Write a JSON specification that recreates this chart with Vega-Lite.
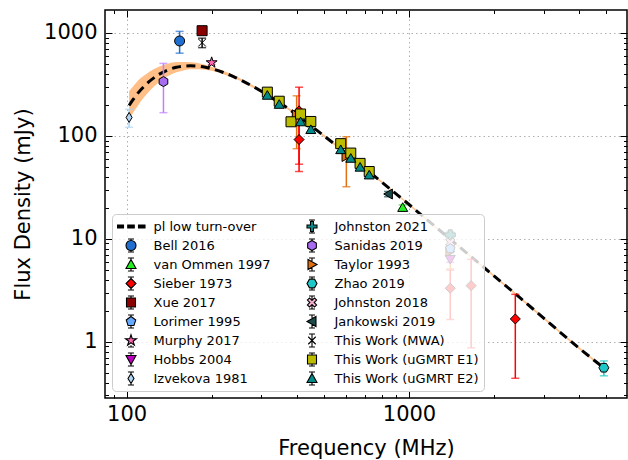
{
  "$schema": "https://vega.github.io/schema/vega-lite/v6.json",
  "width": 522,
  "height": 388,
  "autosize": {"type": "none"},
  "padding": {"left": 105, "top": 10, "right": 1, "bottom": 62},
  "background": "white",
  "config": {
    "font": "DejaVu Sans",
    "view": {"stroke": "black", "strokeWidth": 1.5},
    "axis": {
      "labelFont": "DejaVu Sans", "titleFont": "DejaVu Sans",
      "labelColor": "black", "titleColor": "black", "titleFontWeight": "normal",
      "labelFontSize": 21, "titleFontSize": 21,
      "tickColor": "black", "tickWidth": 1, "domain": false,
      "labelOverlap": false, "labelFlush": false,
      "gridColor": "#b0b0b0", "gridDash": [1.5, 3], "gridWidth": 1
    },
    "legend": {"labelFont": "DejaVu Sans", "labelFontSize": 13, "labelColor": "black", "labelLimit": 300, "symbolLimit": 50}
  },
  "datasets": {
    "fit": [
      {"freq": 102, "s": 197, "lo": 143, "hi": 272},
      {"freq": 105, "s": 222, "lo": 165, "hi": 299},
      {"freq": 110, "s": 263, "lo": 200, "hi": 347},
      {"freq": 115, "s": 301, "lo": 236, "hi": 383},
      {"freq": 120, "s": 336, "lo": 270, "hi": 418},
      {"freq": 130, "s": 395, "lo": 332, "hi": 470},
      {"freq": 140, "s": 437, "lo": 381, "hi": 502},
      {"freq": 150, "s": 464, "lo": 414, "hi": 521},
      {"freq": 160, "s": 477, "lo": 435, "hi": 523},
      {"freq": 168, "s": 480, "lo": 443, "hi": 520},
      {"freq": 180, "s": 475, "lo": 443, "hi": 509},
      {"freq": 190, "s": 464, "lo": 438, "hi": 491},
      {"freq": 200, "s": 449, "lo": 429, "hi": 470},
      {"freq": 220, "s": 413, "lo": 397, "hi": 430},
      {"freq": 240, "s": 375, "lo": 362, "hi": 388},
      {"freq": 260, "s": 337, "lo": 328, "hi": 346},
      {"freq": 280, "s": 302, "lo": 294, "hi": 310},
      {"freq": 300, "s": 271, "lo": 264, "hi": 279},
      {"freq": 330, "s": 230, "lo": 224, "hi": 236},
      {"freq": 360, "s": 197, "lo": 192, "hi": 202},
      {"freq": 400, "s": 161, "lo": 157, "hi": 165},
      {"freq": 450, "s": 125, "lo": 122, "hi": 128},
      {"freq": 500, "s": 100, "lo": 97.7, "hi": 102.3},
      {"freq": 600, "s": 67.5, "lo": 66, "hi": 69},
      {"freq": 700, "s": 48, "lo": 46.9, "hi": 49.1},
      {"freq": 800, "s": 35.6, "lo": 34.8, "hi": 36.4},
      {"freq": 900, "s": 27.3, "lo": 26.7, "hi": 27.9},
      {"freq": 1000, "s": 21.5, "lo": 21, "hi": 22},
      {"freq": 1200, "s": 14.1, "lo": 13.8, "hi": 14.4},
      {"freq": 1500, "s": 8.45, "lo": 8.26, "hi": 8.64},
      {"freq": 2000, "s": 4.35, "lo": 4.25, "hi": 4.45},
      {"freq": 2500, "s": 2.6, "lo": 2.54, "hi": 2.66},
      {"freq": 3000, "s": 1.69, "lo": 1.65, "hi": 1.73},
      {"freq": 4000, "s": 0.865, "lo": 0.845, "hi": 0.885},
      {"freq": 4900, "s": 0.555, "lo": 0.542, "hi": 0.568}
    ],
    "obs": [
      {"series": "Izvekova 1981", "freq": 102, "s": 151, "lo": 121, "hi": 181},
      {"series": "Sanidas 2019", "freq": 135, "s": 337, "lo": 168, "hi": 506},
      {"series": "Bell 2016", "freq": 154, "s": 836, "lo": 636, "hi": 1036},
      {"series": "This Work (MWA)", "freq": 185, "s": 805, "lo": 720, "hi": 890},
      {"series": "Xue 2017", "freq": 185, "s": 1052, "lo": 1002, "hi": 1102},
      {"series": "Murphy 2017", "freq": 200, "s": 515, "lo": 495, "hi": 535},
      {"series": "Taylor 1993", "freq": 400, "s": 160, "lo": 75, "hi": 245},
      {"series": "Taylor 1993", "freq": 600, "s": 63, "lo": 32, "hi": 98},
      {"series": "Taylor 1993", "freq": 1400, "s": 7.5, "lo": 5.1, "hi": 9.9},
      {"series": "Sieber 1973", "freq": 408, "s": 175, "lo": 53, "hi": 297},
      {"series": "Sieber 1973", "freq": 408, "s": 92, "lo": 45, "hi": 139},
      {"series": "Sieber 1973", "freq": 1400, "s": 3.3, "lo": 1.64, "hi": 4.96},
      {"series": "Sieber 1973", "freq": 1660, "s": 3.5, "lo": 0.87, "hi": 6.3},
      {"series": "Sieber 1973", "freq": 2380, "s": 1.66, "lo": 0.44, "hi": 2.88},
      {"series": "Johnston 2021", "freq": 1400, "s": 10.9, "lo": 10.1, "hi": 11.7},
      {"series": "Johnston 2018", "freq": 1400, "s": 9.2, "lo": 8.4, "hi": 10.0},
      {"series": "Lorimer 1995", "freq": 1400, "s": 8.0, "lo": 7.3, "hi": 8.7},
      {"series": "Hobbs 2004", "freq": 1400, "s": 6.25, "lo": 5.9, "hi": 6.6},
      {"series": "Jankowski 2019", "freq": 843, "s": 27.2, "lo": 25.6, "hi": 28.8},
      {"series": "van Ommen 1997", "freq": 950, "s": 20.3, "lo": 19.3, "hi": 21.3},
      {"series": "Zhao 2019", "freq": 4900, "s": 0.557, "lo": 0.465, "hi": 0.649},
      {"series": "This Work (uGMRT E1)", "freq": 315, "s": 266, "lo": 253, "hi": 279},
      {"series": "This Work (uGMRT E1)", "freq": 347, "s": 217, "lo": 206, "hi": 228},
      {"series": "This Work (uGMRT E1)", "freq": 382, "s": 137, "lo": 130, "hi": 144},
      {"series": "This Work (uGMRT E1)", "freq": 413, "s": 163, "lo": 155, "hi": 171},
      {"series": "This Work (uGMRT E1)", "freq": 449, "s": 138, "lo": 131, "hi": 145},
      {"series": "This Work (uGMRT E1)", "freq": 573, "s": 84, "lo": 80, "hi": 88},
      {"series": "This Work (uGMRT E1)", "freq": 622, "s": 68, "lo": 64.6, "hi": 71.4},
      {"series": "This Work (uGMRT E1)", "freq": 671, "s": 54, "lo": 51.3, "hi": 56.7},
      {"series": "This Work (uGMRT E1)", "freq": 723, "s": 45, "lo": 42.8, "hi": 47.2},
      {"series": "This Work (uGMRT E2)", "freq": 315, "s": 250, "lo": 238, "hi": 262},
      {"series": "This Work (uGMRT E2)", "freq": 347, "s": 204, "lo": 194, "hi": 214},
      {"series": "This Work (uGMRT E2)", "freq": 413, "s": 138, "lo": 131, "hi": 145},
      {"series": "This Work (uGMRT E2)", "freq": 449, "s": 116, "lo": 110, "hi": 122},
      {"series": "This Work (uGMRT E2)", "freq": 573, "s": 74, "lo": 70.3, "hi": 77.7},
      {"series": "This Work (uGMRT E2)", "freq": 622, "s": 61, "lo": 58, "hi": 64},
      {"series": "This Work (uGMRT E2)", "freq": 671, "s": 50, "lo": 47.5, "hi": 52.5},
      {"series": "This Work (uGMRT E2)", "freq": 723, "s": 42, "lo": 40, "hi": 44}
    ]
  },
  "resolve": {
    "axis": {"x": "independent", "y": "independent"},
    "scale": {"fill": "independent", "shape": "independent"}
  },
  "layer": [
    {
      "data": {"name": "fit"},
      "mark": {"type": "area", "color": "#ff7f0e", "opacity": 0.5, "interpolate": "monotone"},
      "encoding": {
        "x": {
          "field": "freq", "type": "quantitative",
          "scale": {"type": "log", "domain": [83.8, 5918], "nice": false},
          "axis": {
            "orient": "bottom",
            "values": [90, 100, 200, 300, 400, 500, 600, 700, 800, 900, 1000, 2000, 3000, 4000, 5000],
            "labelExpr": "datum.value == 100 || datum.value == 1000 ? format(datum.value, 'd') : ''",
            "labelPadding": 12,
            "tickSize": {"condition": {"test": "datum.value == 100 || datum.value == 1000", "value": -7}, "value": -3.5},
            "grid": true,
            "gridOpacity": {"condition": {"test": "datum.value == 100 || datum.value == 1000", "value": 1}, "value": 0},
            "title": "Frequency (MHz)",
            "titlePadding": 10
          }
        },
        "y": {
          "field": "lo", "type": "quantitative",
          "scale": {"type": "log", "domain": [0.283, 1672], "nice": false},
          "axis": {
            "orient": "left",
            "values": [0.3, 0.4, 0.5, 0.6, 0.7, 0.8, 0.9, 1, 2, 3, 4, 5, 6, 7, 8, 9, 10, 20, 30, 40, 50, 60, 70, 80, 90, 100, 200, 300, 400, 500, 600, 700, 800, 900, 1000],
            "labelExpr": "indexof([1, 10, 100, 1000], datum.value) >= 0 ? format(datum.value, 'd') : ''",
            "labelPadding": 15,
            "tickSize": {"condition": {"test": "indexof([1, 10, 100, 1000], datum.value) >= 0", "value": -7}, "value": -3.5},
            "grid": true,
            "gridOpacity": {"condition": {"test": "indexof([1, 10, 100, 1000], datum.value) >= 0", "value": 1}, "value": 0},
            "title": "Flux Density (mJy)",
            "titlePadding": 10
          }
        },
        "y2": {"field": "hi"}
      }
    },
    {
      "data": {"name": "fit"},
      "mark": {"type": "line", "color": "black", "strokeWidth": 3, "strokeDash": [9, 5.5], "interpolate": "monotone"},
      "encoding": {
        "x": {
          "field": "freq", "type": "quantitative",
          "scale": {"type": "log", "domain": [83.8, 5918], "nice": false},
          "axis": {
            "orient": "top",
            "values": [90, 100, 200, 300, 400, 500, 600, 700, 800, 900, 1000, 2000, 3000, 4000, 5000],
            "labels": false, "grid": false, "title": null,
            "tickSize": {"condition": {"test": "datum.value == 100 || datum.value == 1000", "value": -7}, "value": -3.5}
          }
        },
        "y": {
          "field": "s", "type": "quantitative",
          "scale": {"type": "log", "domain": [0.283, 1672], "nice": false},
          "axis": {
            "orient": "right",
            "values": [0.3, 0.4, 0.5, 0.6, 0.7, 0.8, 0.9, 1, 2, 3, 4, 5, 6, 7, 8, 9, 10, 20, 30, 40, 50, 60, 70, 80, 90, 100, 200, 300, 400, 500, 600, 700, 800, 900, 1000],
            "labels": false, "grid": false, "title": null,
            "tickSize": {"condition": {"test": "indexof([1, 10, 100, 1000], datum.value) >= 0", "value": -7}, "value": -3.5}
          }
        }
      }
    },
    {
      "data": {"name": "obs"},
      "mark": {"type": "errorbar", "ticks": {"size": 8}, "thickness": 1.5},
      "encoding": {
        "x": {"field": "freq", "type": "quantitative", "scale": {"type": "log", "domain": [83.8, 5918], "nice": false}, "axis": null},
        "y": {"field": "lo", "type": "quantitative", "scale": {"type": "log", "domain": [0.283, 1672], "nice": false}, "axis": null},
        "y2": {"field": "hi"},
        "color": {
          "field": "series", "type": "nominal",
          "scale": {
            "domain": ["pl low turn-over", "Bell 2016", "van Ommen 1997", "Sieber 1973", "Xue 2017", "Lorimer 1995", "Murphy 2017", "Hobbs 2004", "Izvekova 1981", "Johnston 2021", "Sanidas 2019", "Taylor 1993", "Zhao 2019", "Johnston 2018", "Jankowski 2019", "This Work (MWA)", "This Work (uGMRT E1)", "This Work (uGMRT E2)"],
            "range": ["#000000", "#1f6fd0", "#22dd22", "#ff0000", "#8b0000", "#66aaff", "#ff69b4", "#c000c0", "#a8d4f8", "#0e8a8a", "#c080ff", "#e0700e", "#1fc8c8", "#f4b0d0", "#1a4a4a", "#000000", "#bcbc00", "#008b8b"]
          },
          "legend": null
        }
      }
    },
    {
      "data": {"name": "obs"},
      "mark": {"type": "point", "filled": true, "stroke": "black", "strokeWidth": 1, "size": 100, "opacity": 1},
      "encoding": {
        "x": {"field": "freq", "type": "quantitative", "scale": {"type": "log", "domain": [83.8, 5918], "nice": false}, "axis": null},
        "y": {"field": "s", "type": "quantitative", "scale": {"type": "log", "domain": [0.283, 1672], "nice": false}, "axis": null},
        "fill": {
          "field": "series", "type": "nominal",
          "scale": {
            "domain": ["pl low turn-over", "Bell 2016", "van Ommen 1997", "Sieber 1973", "Xue 2017", "Lorimer 1995", "Murphy 2017", "Hobbs 2004", "Izvekova 1981", "Johnston 2021", "Sanidas 2019", "Taylor 1993", "Zhao 2019", "Johnston 2018", "Jankowski 2019", "This Work (MWA)", "This Work (uGMRT E1)", "This Work (uGMRT E2)"],
            "range": ["#000000", "#1f6fd0", "#22ee22", "#ff0000", "#8b0000", "#66aaff", "#ff69b4", "#c000c0", "#b0d4f4", "#0e8a8a", "#a86cf0", "#e0700e", "#1fc8c8", "#f4b0d0", "#1a4a4a", "#000000", "#bcbc00", "#008b8b"]
          },
          "legend": null
        },
        "shape": {
          "field": "series", "type": "nominal",
          "scale": {
            "domain": ["pl low turn-over", "Bell 2016", "van Ommen 1997", "Sieber 1973", "Xue 2017", "Lorimer 1995", "Murphy 2017", "Hobbs 2004", "Izvekova 1981", "Johnston 2021", "Sanidas 2019", "Taylor 1993", "Zhao 2019", "Johnston 2018", "Jankowski 2019", "This Work (MWA)", "This Work (uGMRT E1)", "This Work (uGMRT E2)"],
            "range": [
              "M-2.8,-0.3H-1.5V0.3H-2.8ZM-0.65,-0.3H0.65V0.3H-0.65ZM1.5,-0.3H2.8V0.3H1.5Z",
              "circle",
              "triangle-up",
              "diamond",
              "square",
              "M0,-1L0.951,-0.309L0.588,0.809L-0.588,0.809L-0.951,-0.309Z",
              "M0,-1.15L0.258,-0.355L1.094,-0.355L0.417,0.136L0.676,0.93L0,0.439L-0.676,0.93L-0.417,0.136L-1.094,-0.355L-0.258,-0.355Z",
              "triangle-down",
              "M0,-1L0.6,0L0,1L-0.6,0Z",
              "cross",
              "M0,-1L0.866,-0.5L0.866,0.5L0,1L-0.866,0.5L-0.866,-0.5Z",
              "triangle-right",
              "M1,0L0.5,0.866L-0.5,0.866L-1,0L-0.5,-0.866L0.5,-0.866Z",
              "M0.495,-0.919L0.919,-0.495L0.424,0L0.919,0.495L0.495,0.919L0,0.424L-0.495,0.919L-0.919,0.495L-0.424,0L-0.919,-0.495L-0.495,-0.919L0,-0.424Z",
              "triangle-left",
              "M-0.75,-0.75L0.75,0.75M-0.75,0.75L0.75,-0.75",
              "square",
              "triangle-up"
            ]
          },
          "legend": null
        }
      }
    },
    {
      "data": {"name": "obs"},
      "transform": [{"filter": "false"}],
      "mark": {"type": "point", "filled": true, "stroke": "black", "strokeWidth": 1.1, "size": 100, "opacity": 1},
      "encoding": {
        "x": {"field": "freq", "type": "quantitative", "scale": {"type": "log", "domain": [83.8, 5918], "nice": false}, "axis": null},
        "y": {"field": "s", "type": "quantitative", "scale": {"type": "log", "domain": [0.283, 1672], "nice": false}, "axis": null},
        "fill": {
          "field": "series", "type": "nominal",
          "scale": {
            "domain": ["pl low turn-over", "Bell 2016", "van Ommen 1997", "Sieber 1973", "Xue 2017", "Lorimer 1995", "Murphy 2017", "Hobbs 2004", "Izvekova 1981", "Johnston 2021", "Sanidas 2019", "Taylor 1993", "Zhao 2019", "Johnston 2018", "Jankowski 2019", "This Work (MWA)", "This Work (uGMRT E1)", "This Work (uGMRT E2)"],
            "range": ["#000000", "#1f6fd0", "#22ee22", "#ff0000", "#8b0000", "#66aaff", "#ff69b4", "#c000c0", "#b0d4f4", "#0e8a8a", "#a86cf0", "#e0700e", "#1fc8c8", "#f4b0d0", "#1a4a4a", "#000000", "#bcbc00", "#008b8b"]
          },
          "legend": {
            "orient": "bottom-left", "offset": 7,
            "columns": 2, "columnPadding": 27, "rowPadding": 4, "padding": 5,
            "clipHeight": 15,
            "symbolSize": 100, "symbolOffset": 7.5, "labelOffset": 16,
            "symbolStrokeColor": "black", "symbolStrokeWidth": 1.1,
            "title": null,
            "fillColor": "rgba(255,255,255,0.8)", "strokeColor": "#cccccc", "cornerRadius": 4,
            "zindex": 1
          }
        },
        "shape": {
          "field": "series", "type": "nominal",
          "scale": {
            "domain": ["pl low turn-over", "Bell 2016", "van Ommen 1997", "Sieber 1973", "Xue 2017", "Lorimer 1995", "Murphy 2017", "Hobbs 2004", "Izvekova 1981", "Johnston 2021", "Sanidas 2019", "Taylor 1993", "Zhao 2019", "Johnston 2018", "Jankowski 2019", "This Work (MWA)", "This Work (uGMRT E1)", "This Work (uGMRT E2)"],
            "range": [
              "M-2.8,-0.3H-1.5V0.3H-2.8ZM-0.65,-0.3H0.65V0.3H-0.65ZM1.5,-0.3H2.8V0.3H1.5Z",
              "M1,0A1,1,0,1,1,-1,0A1,1,0,1,1,1,0ZM0,-1.3V-1M-0.6,-1.3H0.6M0,1V1.3M-0.6,1.3H0.6",
              "M0,-1L1,0.8L-1,0.8ZM0,-1.3V-1M-0.6,-1.3H0.6M0,0.8V1.3M-0.6,1.3H0.6",
              "M0,-1L1,0L0,1L-1,0ZM0,-1.3V-1M-0.6,-1.3H0.6M0,1V1.3M-0.6,1.3H0.6",
              "M-0.9,-0.9H0.9V0.9H-0.9ZM0,-1.3V-0.9M-0.6,-1.3H0.6M0,0.9V1.3M-0.6,1.3H0.6",
              "M0,-1L0.951,-0.309L0.588,0.809L-0.588,0.809L-0.951,-0.309ZM0,-1.3V-1M-0.6,-1.3H0.6M0,0.809V1.3M-0.6,1.3H0.6",
              "M0,-1.15L0.258,-0.355L1.094,-0.355L0.417,0.136L0.676,0.93L0,0.439L-0.676,0.93L-0.417,0.136L-1.094,-0.355L-0.258,-0.355ZM0,0.93V1.3M-0.6,1.3H0.6",
              "M0,1L1,-0.8L-1,-0.8ZM0,-1.3V-0.8M-0.6,-1.3H0.6M0,1V1.3M-0.6,1.3H0.6",
              "M0,-1L0.6,0L0,1L-0.6,0ZM0,-1.3V-1M-0.6,-1.3H0.6M0,1V1.3M-0.6,1.3H0.6",
              "M-0.3,-1H0.3V-0.3H1V0.3H0.3V1H-0.3V0.3H-1V-0.3H-0.3ZM0,-1.3V-1M-0.6,-1.3H0.6M0,1V1.3M-0.6,1.3H0.6",
              "M0,-1L0.866,-0.5L0.866,0.5L0,1L-0.866,0.5L-0.866,-0.5ZM0,-1.3V-1M-0.6,-1.3H0.6M0,1V1.3M-0.6,1.3H0.6",
              "M1,0L-0.8,1L-0.8,-1ZM0,-1.3V-0.55M-0.6,-1.3H0.6M0,0.55V1.3M-0.6,1.3H0.6",
              "M1,0L0.5,0.866L-0.5,0.866L-1,0L-0.5,-0.866L0.5,-0.866ZM0,-1.3V-0.866M-0.6,-1.3H0.6M0,0.866V1.3M-0.6,1.3H0.6",
              "M0.495,-0.919L0.919,-0.495L0.424,0L0.919,0.495L0.495,0.919L0,0.424L-0.495,0.919L-0.919,0.495L-0.424,0L-0.919,-0.495L-0.495,-0.919L0,-0.424ZM0,-1.3V-0.424M-0.6,-1.3H0.6M0,0.424V1.3M-0.6,1.3H0.6",
              "M-1,0L0.8,-1L0.8,1ZM0,-1.3V-0.55M-0.6,-1.3H0.6M0,0.55V1.3M-0.6,1.3H0.6",
              "M-0.75,-0.75L0.75,0.75M-0.75,0.75L0.75,-0.75M0,-1.3V1.3M-0.6,-1.3H0.6M-0.6,1.3H0.6",
              "M-0.9,-0.9H0.9V0.9H-0.9ZM0,-1.3V-0.9M-0.6,-1.3H0.6M0,0.9V1.3M-0.6,1.3H0.6",
              "M0,-1L1,0.8L-1,0.8ZM0,-1.3V-1M-0.6,-1.3H0.6M0,0.8V1.3M-0.6,1.3H0.6"
            ]
          }
        }
      }
    }
  ]
}
